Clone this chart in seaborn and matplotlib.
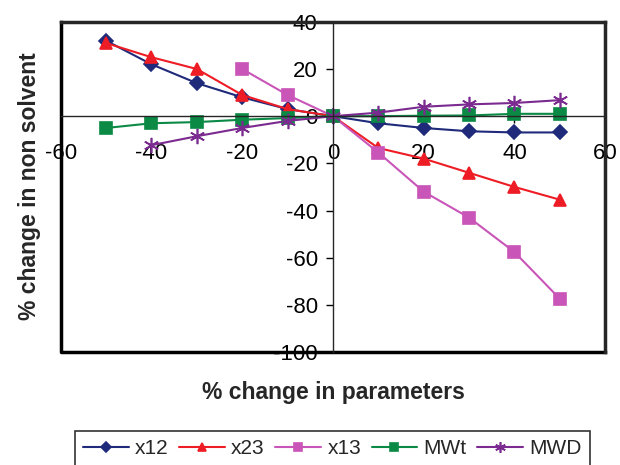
import numpy as np
import pandas as pd
import matplotlib
matplotlib.use("Agg")
import matplotlib.pyplot as plt
import seaborn as sns

# Valores
x_all = [-50, -40, -30, -20, -10, 0, 10, 20, 30, 40, 50]
x12 = [32, 22, 14, 8, 3, 0, -3, -5, -6.4, -6.9, -6.9]
x23 = [31, 25, 20, 9, 3, 0, -13.5, -18, -24, -30, -35.4]
x13_x = [-20, -10, 0, 10, 20, 30, 40, 50]
x13 = [20, 9, 0, -15.4, -32, -43, -57.6, -77.4]
mwt = [-5, -3, -2.5, -1.5, -0.8, 0, 0, 0.2, 0.3, 1, 1]
mwd_x = [-40, -30, -20, -10, 0, 10, 20, 30, 40, 50]
mwd = [-12.3, -8.5, -5, -2, 0, 1.5, 4, 5, 5.6, 6.8]

sns.set_style("white")
plt.rcParams["font.family"] = ["Liberation Sans", "DejaVu Sans"]
plt.rcParams["axes.unicode_minus"] = False

fig = plt.figure(figsize=(6.2, 4.65), dpi=100)
ax = fig.add_axes([0.098, 0.243, 0.878, 0.71])

series = [
    ("x12", x_all, x12, "#1f2a7a", "D", 7),
    ("x23", x_all, x23, "#ee1c24", "^", 9),
    ("x13", x13_x, x13, "#c955b8", "s", 8),
    ("MWt", x_all, mwt, "#0b8a45", "s", 8.5),
    ("MWD", mwd_x, mwd, "#7b2a90", (6, 2, 0), 11),
]
for name, xs, ys, col, mk, ms in series:
    df = pd.DataFrame({"x": xs, "y": ys})
    sns.lineplot(data=df, x="x", y="y", ax=ax, color=col, marker=mk,
                 markersize=ms, markeredgecolor=col, markeredgewidth=1.2,
                 linewidth=1.5, label=name, sort=False)

ax.set_xlim(-60, 60)
ax.set_ylim(-100, 40)
ax.set_xticks(np.arange(-60, 61, 20))
ax.set_yticks(np.arange(-100, 41, 20))

# ejes cruzando en el origen
ax.spines["left"].set_position("zero")
ax.spines["bottom"].set_position("zero")
ax.spines["left"].set_linewidth(1)
ax.spines["bottom"].set_linewidth(1)
for s in ["top", "right"]:
    ax.spines[s].set_linewidth(2.5)
# marco exterior
ax.plot([0, 0, 1], [1, 0, 0], transform=ax.transAxes, color="black",
        linewidth=2.5, clip_on=False, solid_capstyle="projecting")
ax.tick_params(axis="both", direction="out", length=5, width=1,
               labelsize=16, colors="black", bottom=True, left=True)
ax.tick_params(axis="x", pad=14)
ax.tick_params(axis="y", pad=6)

ax.set_xlabel("")
ax.set_ylabel("")
fig.text(0.537, 0.155, "% change in parameters", ha="center", va="center",
         fontsize=16.5, fontweight="bold")
fig.text(0.048, 0.6, "% change in non solvent", ha="center", va="center",
         rotation=90, fontsize=16.5, fontweight="bold")

ax.get_legend().remove()
handles, labels = ax.get_legend_handles_labels()
leg = fig.legend(handles, labels, loc="center",
                 bbox_to_anchor=(0.536, 0.035),
                 ncol=5, fontsize=15, frameon=True, fancybox=False,
                 edgecolor="black", handlelength=2.2, handletextpad=0.3,
                 columnspacing=0.5, borderpad=0.4, markerscale=0.7)
leg.get_frame().set_linewidth(1.2)

plt.savefig("out.png", dpi=100)
